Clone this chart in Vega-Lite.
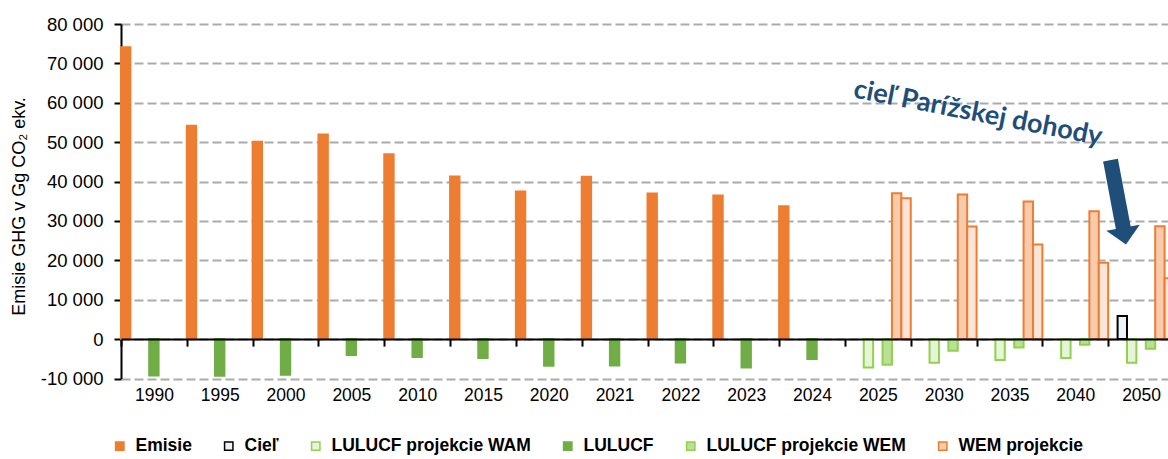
{
  "$schema": "https://vega.github.io/schema/vega-lite/v6.json",
  "width": 1047,
  "height": 354.5,
  "autosize": {"type": "none"},
  "padding": {"left": 121, "top": 24, "right": 0, "bottom": 80},
  "background": "white",
  "config": {"view": {"stroke": null}, "font": "Liberation Sans"},
  "layer": [
    {
      "data": {"values": [
        {"cat": "1990", "series": "Emisie", "value": 74100},
        {"cat": "1995", "series": "Emisie", "value": 54140},
        {"cat": "2000", "series": "Emisie", "value": 50080},
        {"cat": "2005", "series": "Emisie", "value": 51930},
        {"cat": "2010", "series": "Emisie", "value": 46950},
        {"cat": "2015", "series": "Emisie", "value": 41270},
        {"cat": "2020", "series": "Emisie", "value": 37460},
        {"cat": "2021", "series": "Emisie", "value": 41190},
        {"cat": "2022", "series": "Emisie", "value": 36950},
        {"cat": "2023", "series": "Emisie", "value": 36450},
        {"cat": "2024", "series": "Emisie", "value": 33760},
        {"cat": "1990", "series": "LULUCF", "value": -9240},
        {"cat": "1995", "series": "LULUCF", "value": -9310},
        {"cat": "2000", "series": "LULUCF", "value": -9060},
        {"cat": "2005", "series": "LULUCF", "value": -4060},
        {"cat": "2010", "series": "LULUCF", "value": -4570},
        {"cat": "2015", "series": "LULUCF", "value": -4820},
        {"cat": "2020", "series": "LULUCF", "value": -6780},
        {"cat": "2021", "series": "LULUCF", "value": -6700},
        {"cat": "2022", "series": "LULUCF", "value": -5940},
        {"cat": "2023", "series": "LULUCF", "value": -7210},
        {"cat": "2024", "series": "LULUCF", "value": -5080},
        {"cat": "2025", "series": "WEM projekcie", "value": 37060},
        {"cat": "2030", "series": "WEM projekcie", "value": 36700},
        {"cat": "2035", "series": "WEM projekcie", "value": 34920},
        {"cat": "2040", "series": "WEM projekcie", "value": 32490},
        {"cat": "2050", "series": "WEM projekcie", "value": 28680},
        {"cat": "2025", "series": "WAM projekcie", "value": 35790},
        {"cat": "2030", "series": "WAM projekcie", "value": 28580},
        {"cat": "2035", "series": "WAM projekcie", "value": 24010},
        {"cat": "2040", "series": "WAM projekcie", "value": 19370},
        {"cat": "2050", "series": "WAM projekcie", "value": 15480},
        {"cat": "2025", "series": "LULUCF projekcie WAM", "value": -7210},
        {"cat": "2030", "series": "LULUCF projekcie WAM", "value": -6020},
        {"cat": "2035", "series": "LULUCF projekcie WAM", "value": -5330},
        {"cat": "2040", "series": "LULUCF projekcie WAM", "value": -4820},
        {"cat": "2050", "series": "LULUCF projekcie WAM", "value": -6020},
        {"cat": "2025", "series": "LULUCF projekcie WEM", "value": -6520},
        {"cat": "2030", "series": "LULUCF projekcie WEM", "value": -2970},
        {"cat": "2035", "series": "LULUCF projekcie WEM", "value": -2130},
        {"cat": "2040", "series": "LULUCF projekcie WEM", "value": -1450},
        {"cat": "2050", "series": "LULUCF projekcie WEM", "value": -2460},
        {"cat": "2050", "series": "Cieľ", "value": 5840}
      ]},
      "mark": {"type": "bar", "strokeWidth": 2},
      "encoding": {
        "x": {
          "field": "cat", "type": "nominal",
          "scale": {"domain": ["1990","1995","2000","2005","2010","2015","2020","2021","2022","2023","2024","2025","2030","2035","2040","2050"], "range": [0, 1053], "paddingInner": 0, "paddingOuter": 0},
          "axis": {
            "orient": "bottom", "offset": -39.4, "zindex": 1, "title": null,
            "domain": true, "domainColor": "black", "domainWidth": 2,
            "ticks": true, "tickBand": "extent", "tickSize": 7, "tickWidth": 2, "tickColor": "black",
            "labelAngle": 0, "labelPadding": 40, "labelFontSize": 17.5, "labelColor": "black", "labelBaseline": "top", "grid": false, "labelOverlap": false
          }
        },
        "xOffset": {
          "field": "series", "type": "nominal",
          "scale": {"domain": ["Emisie","Cieľ","LULUCF projekcie WAM","LULUCF","LULUCF projekcie WEM","WEM projekcie","WAM projekcie"], "paddingInner": 0, "paddingOuter": 0}
        },
        "y": {
          "field": "value", "type": "quantitative",
          "scale": {"domain": [-10000, 80000], "nice": false},
          "axis": {
            "values": [-10000,0,10000,20000,30000,40000,50000,60000,70000,80000],
            "tickCount": 20,
            "labelOverlap": false,
            "grid": true, "gridDash": [9, 4], "gridColor": "#ababab", "gridWidth": 2,
            "domainColor": "black", "domainWidth": 2,
            "tickColor": "black", "tickWidth": 2, "tickSize": 7,
            "labelPadding": 11, "labelFontSize": 18.5, "labelFontWeight": "normal", "labelColor": "black",
            "labelExpr": "replace(replace(format(datum.value, ','), ',', '  '), '−', '-')",
            "title": "Emisie GHG v Gg CO₂ ekv.", "titleFontSize": 18, "titleFontWeight": "normal", "titleColor": "black",
            "titleAngle": 270, "titleX": -102, "titleY": 182, "titleAlign": "center", "titleBaseline": "middle"
          }
        },
        "fill": {
          "field": "series", "type": "nominal",
          "scale": {"domain": ["Emisie","Cieľ","LULUCF projekcie WAM","LULUCF","LULUCF projekcie WEM","WEM projekcie","WAM projekcie"],
                    "range": ["#ED7D31","#EEF3FA","#E6F4D8","#70AD47","#B9E093","#F8CBAD","#FCE4D6"]},
          "legend": {
            "values": ["Emisie","Cieľ","LULUCF projekcie WAM","LULUCF","LULUCF projekcie WEM","WEM projekcie"],
            "title": null, "orient": "none", "direction": "horizontal", "legendX": -10, "legendY": 413,
            "symbolType": "square", "symbolSize": 70, "symbolStrokeWidth": 1.5,
            "labelFontSize": 17.5, "labelFontWeight": "bold", "labelColor": "black", "labelOffset": 7,
            "columnPadding": 28, "labelLimit": 400, "padding": 0
          }
        },
        "stroke": {
          "field": "series", "type": "nominal",
          "scale": {"domain": ["Emisie","Cieľ","LULUCF projekcie WAM","LULUCF","LULUCF projekcie WEM","WEM projekcie","WAM projekcie"],
                    "range": ["#ED7D31","#000000","#92D050","#70AD47","#92D050","#ED7D31","#ED7D31"]}
        }
      }
    },
    {
      "data": {"values": [{}]},
      "mark": {"type": "text", "text": "cieľ Parížskej dohody", "font": "Lato", "fontWeight": "bold", "fontSize": 27, "color": "#1F4E79", "angle": 11, "align": "center", "baseline": "middle"},
      "encoding": {
        "x": {"datum": 13.02, "type": "quantitative", "scale": {"domain": [0, 16], "range": [0, 1053]}, "axis": null},
        "y": {"datum": 57300, "type": "quantitative"}
      }
    },
    {
      "data": {"values": [{}]},
      "mark": {"type": "rule", "color": "#1F4E79", "strokeWidth": 15, "strokeCap": "butt"},
      "encoding": {
        "x": {"datum": 15.035, "type": "quantitative", "scale": {"domain": [0, 16], "range": [0, 1053]}, "axis": null},
        "x2": {"datum": 15.233},
        "y": {"datum": 45460, "type": "quantitative"},
        "y2": {"datum": 27940}
      }
    },
    {
      "data": {"values": [{}]},
      "mark": {"type": "point", "shape": "M-1,-0.5L1,-0.5L0,0.5Z", "filled": true, "color": "#1F4E79", "opacity": 1, "size": 1150, "angle": 350},
      "encoding": {
        "x": {"datum": 15.248, "type": "quantitative", "scale": {"domain": [0, 16], "range": [0, 1053]}, "axis": null},
        "y": {"datum": 26170, "type": "quantitative"}
      }
    }
  ],
  "resolve": {"scale": {"x": "independent"}, "axis": {"x": "independent"}}
}
